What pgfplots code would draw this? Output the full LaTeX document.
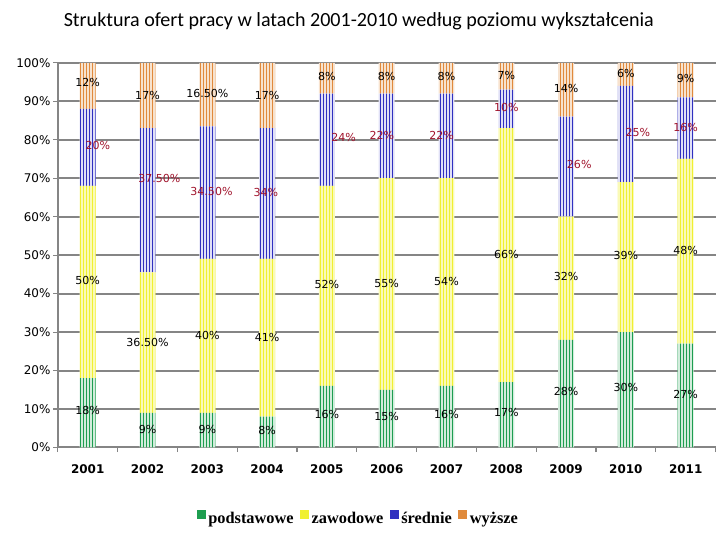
\documentclass[border=0pt]{standalone}
\usepackage{pgfplots}
\pgfplotsset{compat=1.18}
\usepackage{pgfplotstable}
\usepackage{fontspec}
\setmainfont{DejaVu Sans}
\newfontfamily\carlito{Carlito}
\newfontfamily\lserif{Liberation Serif}
\usetikzlibrary{patterns.meta}

\definecolor{cpod}{HTML}{1E9E50}
\definecolor{czaw}{HTML}{F0F030}
\definecolor{csre}{HTML}{3030C0}
\definecolor{cwyz}{HTML}{E08A3C}
\definecolor{clab}{HTML}{A0142C}
\definecolor{cgrid}{HTML}{858585}

\tikzdeclarepattern{
  name=paski, type=uncolored,
  bounding box={(0pt,0pt) and (2.25pt,2.25pt)},
  tile size={(2.25pt,2.25pt)},
  code={\pgfpathrectangle{\pgfqpoint{0pt}{-0.1pt}}{\pgfqpoint{0.75pt}{2.45pt}}\pgfusepath{fill}}
}

% rok, podstawowe, zawodowe, srednie, wyzsze (w %)
\pgfplotstableread{
x  pod  zaw   sre   wyz
0  18   50    20    12
1  9    36.5  37.5  17
2  9    40    34.5  16.5
3  8    41    34    17
4  16   52    24    8
5  15   55    22    8
6  16   54    22    8
7  17   66    10    7
8  28   32    26    14
9  30   39    25    6
10 27   48    16    9
}\dane

\tikzset{lb/.style={inner sep=0pt, text=black}, lr/.style={inner sep=0pt, text=clab}}
\newcommand\etykiety{%
% 2001
\node[lb] at (axis cs:0,94.9) {12\%};
\node[lr] at (axis cs:0.17,78.4) {20\%};
\node[lb] at (axis cs:0,43.5) {50\%};
\node[lb] at (axis cs:0,9.6) {18\%};
% 2002
\node[lb] at (axis cs:1,91.6) {17\%};
\node[lr] at (axis cs:1.2,69.9) {37.50\%};
\node[lb] at (axis cs:1,27.4) {36.50\%};
\node[lb] at (axis cs:1,4.7) {9\%};
% 2003
\node[lb] at (axis cs:2,92.1) {16.50\%};
\node[lr] at (axis cs:2.07,66.5) {34.50\%};
\node[lb] at (axis cs:2,29.2) {40\%};
\node[lb] at (axis cs:2,4.7) {9\%};
% 2004
\node[lb] at (axis cs:3,91.6) {17\%};
\node[lr] at (axis cs:2.98,66.3) {34\%};
\node[lb] at (axis cs:3,28.7) {41\%};
\node[lb] at (axis cs:3,4.4) {8\%};
% 2005
\node[lb] at (axis cs:4,96.5) {8\%};
\node[lr] at (axis cs:4.28,80.7) {24\%};
\node[lb] at (axis cs:4,42.4) {52\%};
\node[lb] at (axis cs:4,8.5) {16\%};
% 2006
\node[lb] at (axis cs:5,96.5) {8\%};
\node[lr] at (axis cs:4.92,81) {22\%};
\node[lb] at (axis cs:5,42.7) {55\%};
\node[lb] at (axis cs:5,8) {15\%};
% 2007
\node[lb] at (axis cs:6,96.5) {8\%};
\node[lr] at (axis cs:5.92,81) {22\%};
\node[lb] at (axis cs:6,43.2) {54\%};
\node[lb] at (axis cs:6,8.5) {16\%};
% 2008
\node[lb] at (axis cs:7,96.8) {7\%};
\node[lr] at (axis cs:7,88.5) {10\%};
\node[lb] at (axis cs:7,50.2) {66\%};
\node[lb] at (axis cs:7,9.1) {17\%};
% 2009
\node[lb] at (axis cs:8,93.4) {14\%};
\node[lr] at (axis cs:8.22,73.5) {26\%};
\node[lb] at (axis cs:8,44.5) {32\%};
\node[lb] at (axis cs:8,14.5) {28\%};
% 2010
\node[lb] at (axis cs:9,97.3) {6\%};
\node[lr] at (axis cs:9.2,81.8) {25\%};
\node[lb] at (axis cs:9,49.9) {39\%};
\node[lb] at (axis cs:9,15.5) {30\%};
% 2011
\node[lb] at (axis cs:10,96) {9\%};
\node[lr] at (axis cs:10,83.3) {16\%};
\node[lb] at (axis cs:10,51.2) {48\%};
\node[lb] at (axis cs:10,13.7) {27\%};
}

\begin{document}
\begin{tikzpicture}[font=\fontsize{8.3}{9}\selectfont]
\path (-43.5pt,-68.25pt) rectangle (496.5pt,336.75pt);
\begin{axis}[
  at={(0,0)}, anchor=south west,
  scale only axis, width=495pt, height=289.5pt,
  ybar stacked, bar width=12pt,
  xmin=-0.5, xmax=10.5, ymin=0, ymax=100,
  axis lines*=left,
  axis line style={cgrid, line width=1.2pt},
  ymajorgrids, grid style={cgrid, line width=1.5pt},
  ytick={0,10,...,100},
  yticklabel={\pgfmathprintnumber{\tick}\%},
  yticklabel style={font=\fontsize{9}{10}\selectfont, xshift=1.5pt},
  tick style={cgrid, line width=0.8pt},
  tick align=outside, major tick length=3.5pt,
  xtick={-0.5,0.5,...,10.5}, xticklabels={},
  extra x ticks={0,...,10},
  extra x tick labels={2001,2002,2003,2004,2005,2006,2007,2008,2009,2010,2011},
  extra x tick style={major tick length=0pt, tick style={draw=none},
    xticklabel style={font=\fontsize{9}{10}\selectfont\bfseries, yshift=-9pt}},
  /pgf/number format/assume math mode=true,
  legend style={at={(0.4576,-0.186)}, anchor=center, draw=none,
    legend columns=-1, font=\lserif\fontsize{12.3}{14}\selectfont\bfseries,
    /tikz/every even column/.append style={column sep=3pt}},
  legend image code/.code={\fill[#1] (0pt,0pt) rectangle (6.5pt,6.5pt);},
  after end axis/.code={\etykiety},
]
\addplot[forget plot, draw=none, fill=cpod!20, postaction={pattern=paski, pattern color=cpod}] table[x=x, y=pod] {\dane};
\addplot[forget plot, draw=none, fill=czaw!35, postaction={pattern=paski, pattern color=czaw}] table[x=x, y=zaw] {\dane};
\addplot[forget plot, draw=none, fill=csre!15, postaction={pattern=paski, pattern color=csre}] table[x=x, y=sre] {\dane};
\addplot[forget plot, draw=none, fill=cwyz!25, postaction={pattern=paski, pattern color=cwyz}] table[x=x, y=wyz] {\dane};
\addlegendimage{fill=cpod, draw=none}
\addlegendimage{fill=czaw, draw=none}
\addlegendimage{fill=csre, draw=none}
\addlegendimage{fill=cwyz, draw=none}
\legend{podstawowe, zawodowe, średnie, wyższe}
\end{axis}
\node[font=\carlito\fontsize{15.1}{18}\selectfont] at (226.5pt,321pt)
  {Struktura ofert pracy w latach 2001-2010 według poziomu wykształcenia};
\end{tikzpicture}
\end{document}
